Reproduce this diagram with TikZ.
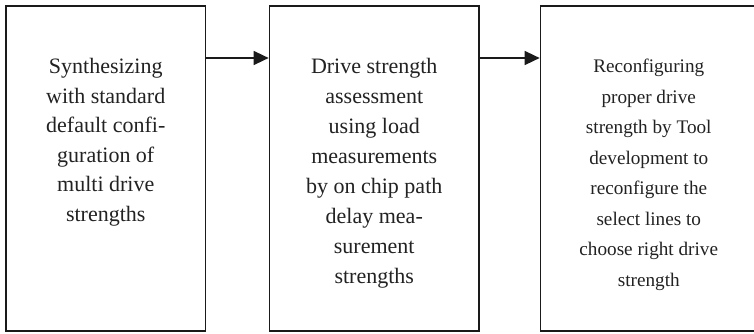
\documentclass[tikz,border=0pt]{standalone}
\usepackage{fontspec}
\setmainfont{Liberation Serif}
\usepackage{tikz}
\usetikzlibrary{arrows.meta,calc,positioning}
\usepackage{xcolor}
\definecolor{FlowLine}{HTML}{1A1A1A}
\definecolor{FlowText}{HTML}{222222}

\begin{document}
\begin{tikzpicture}[
  x=1pt,y=1pt,>=Latex,
  flow/.style={-{Triangle[length=15pt,width=14pt]},draw=FlowLine,line width=1.5pt},
  stage/.style={draw=FlowLine,fill=white,line width=1.7pt,minimum height=325pt},
  stagetext/.style={align=center,text=FlowText,inner sep=3pt,
    font=\fontsize{22}{30}\selectfont},
  smalltext/.style={stagetext,font=\fontsize{19.2}{30.5}\selectfont}
]
\useasboundingbox (0,0) rectangle (754,333);

% Three stages on one row; the last box runs past the right page edge.
\node[stage,minimum width=199.5pt] (synth) at (105.75,164.5) {};
\node[stage,minimum width=209.5pt] (assess) at (374.25,164.5) {};
\node[stage,minimum width=216.5pt] (reconf) at (648.75,164.5) {};

\node[stagetext,below=50pt of synth.north,
  font=\fontsize{22}{29.5}\selectfont] (synthtxt)
  {Synthesizing\\with standard\\default confi-\\guration of\\multi drive\\strengths};
\node[stagetext,below=50pt of assess.north] (assesstxt)
  {Drive strength\\assessment\\using load\\measurements\\by on chip path\\delay mea-\\surement\\strengths};
\node[smalltext,below=51pt of reconf.north] (reconftxt)
  {Reconfiguring\\proper drive\\strength by Tool\\development to\\reconfigure the\\select lines to\\choose right drive\\strength};

\draw[flow] ([yshift=110.5pt]synth.east) -- ([yshift=110.5pt]assess.west);
\draw[flow] ([yshift=110.5pt]assess.east) -- ([yshift=110.5pt]reconf.west);

\end{tikzpicture}
\end{document}
